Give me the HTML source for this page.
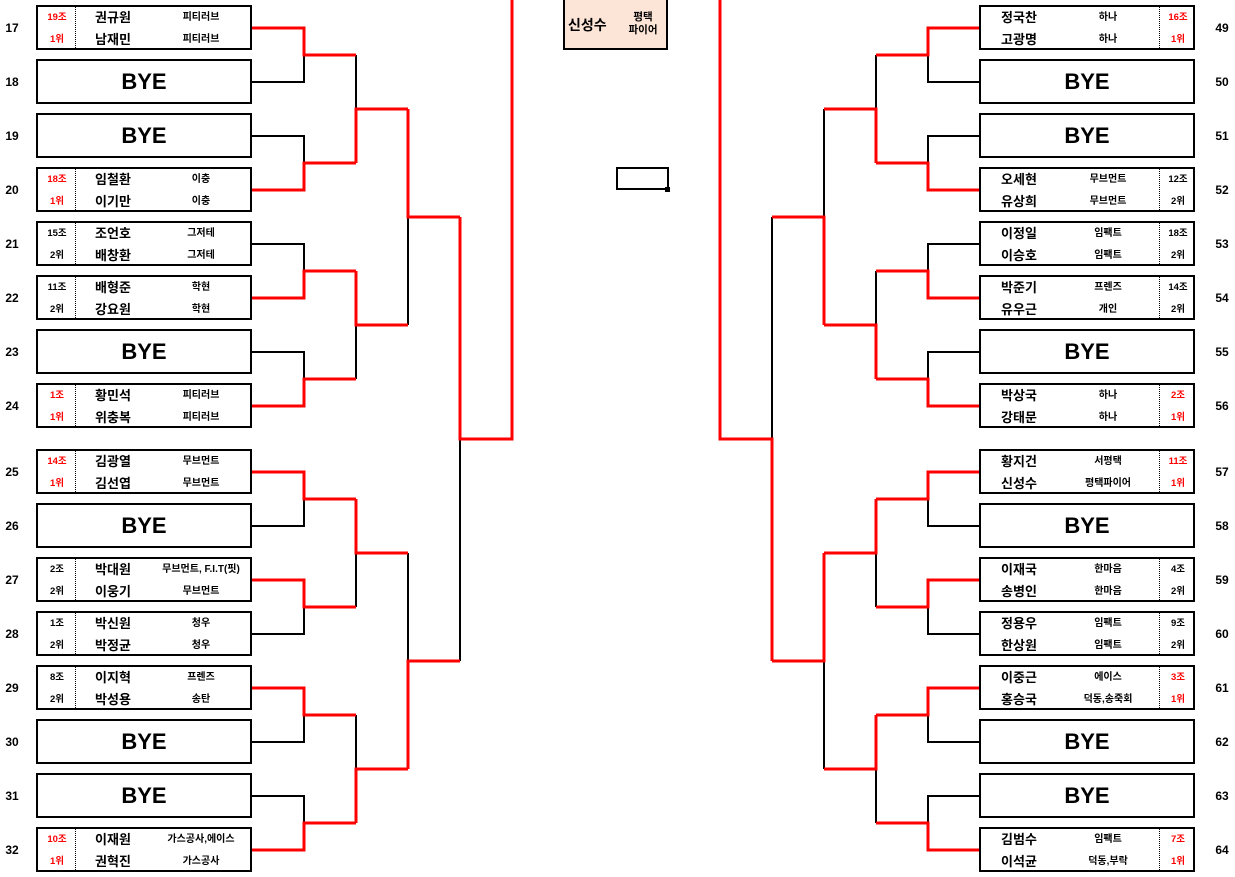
<!DOCTYPE html>
<html><head><meta charset="utf-8"><style>
body{margin:0;width:1235px;height:877px;background:#fff;position:relative;overflow:hidden;font-family:"Liberation Sans","Noto Sans CJK KR",sans-serif;color:#000}
.b{position:absolute;width:212px;height:41px;border:2px solid #000;background:#fff}
.L{left:36px}.R{left:979px}
.b span{position:absolute;text-align:center;line-height:20px;white-space:nowrap}
.t{top:1px}.u{top:23px}
.n{font-size:13px;font-weight:bold}
.c{font-size:10px;font-weight:bold}
.s{font-size:9.5px;font-weight:bold}
.red{color:#f00}
.L .s{left:0;width:38px}.L .n{left:40px;width:70px}.L .c{left:110px;width:106px}
.R .n{left:0;width:76px}.R .c{left:76px;width:102px}.R .s{left:180px;width:34px}
.L .d{position:absolute;left:37px;top:0;height:41px;border-left:1px dotted #000}
.R .d{position:absolute;left:178px;top:0;height:41px;border-left:1px dotted #000}
.bye{font-size:22px;font-weight:bold;line-height:41px;text-align:center}
.num{position:absolute;font-size:12px;font-weight:bold;width:24px;text-align:center;line-height:14px}
</style></head><body>
<svg width="1235" height="877" style="position:absolute;left:0;top:0">
<g fill="none" stroke="#000" stroke-width="2">
<path d="M252 82H304V55M252 136H304V163M356 55V109M252 244H304V271M252 352H304V379M356 379V325M408 325V217M460 661V439"/>
<path d="M252 526H304V499M252 634H304V607M356 607V553M252 742H304V715M252 796H304V823M356 715V769M408 553V661"/>
<path d="M979 82H928V55M979 136H928V163M876 55V109M979 244H928V271M979 352H928V379M876 271V325M824 109V217M772 217V439"/>
<path d="M979 526H928V499M979 634H928V607M876 607V553M979 742H928V715M979 796H928V823M876 823V769M824 769V661"/>
</g>
<g fill="none" stroke="#f00" stroke-width="3">
<path d="M252 28H304V55H356M252 190H304V163H356M356 163V109H408M252 298H304V271H356M252 406H304V379H356M356 271V325H408M408 109V217H460M460 217V439H512V0"/>
<path d="M252 472H304V499H356M252 580H304V607H356M356 499V553H408M252 688H304V715H356M252 850H304V823H356M356 823V769H408M408 769V661H460"/>
<path d="M979 28H928V55H876M979 190H928V163H876M876 163V109H824M979 298H928V271H876M979 406H928V379H876M876 379V325H824M824 325V217H772M772 661V439H720V0"/>
<path d="M979 472H928V499H876M979 580H928V607H876M876 499V553H824M979 688H928V715H876M979 850H928V823H876M876 715V769H824M824 553V661H772"/>
</g>
</svg>

<div style="position:absolute;left:563px;top:-3px;width:101px;height:49px;border:2px solid #000;background:#fce4d6">
<span style="position:absolute;left:3px;top:16px;font-size:14px;font-weight:bold">신성수</span>
<span style="position:absolute;left:58px;top:12px;width:40px;text-align:center;font-size:10.5px;font-weight:bold;line-height:13px">평택<br>파이어</span>
</div>
<div style="position:absolute;left:616px;top:167px;width:49px;height:19px;border:2px solid #000"></div>
<div style="position:absolute;left:665px;top:187px;width:5px;height:5px;background:#000"></div>

<div class="num" style="left:0;top:21px">17</div><div class="num" style="left:0;top:75px">18</div><div class="num" style="left:0;top:129px">19</div><div class="num" style="left:0;top:183px">20</div><div class="num" style="left:0;top:237px">21</div><div class="num" style="left:0;top:291px">22</div><div class="num" style="left:0;top:345px">23</div><div class="num" style="left:0;top:399px">24</div>
<div class="num" style="left:0;top:465px">25</div><div class="num" style="left:0;top:519px">26</div><div class="num" style="left:0;top:573px">27</div><div class="num" style="left:0;top:627px">28</div><div class="num" style="left:0;top:681px">29</div><div class="num" style="left:0;top:735px">30</div><div class="num" style="left:0;top:789px">31</div><div class="num" style="left:0;top:843px">32</div>
<div class="num" style="left:1210px;top:21px">49</div><div class="num" style="left:1210px;top:75px">50</div><div class="num" style="left:1210px;top:129px">51</div><div class="num" style="left:1210px;top:183px">52</div><div class="num" style="left:1210px;top:237px">53</div><div class="num" style="left:1210px;top:291px">54</div><div class="num" style="left:1210px;top:345px">55</div><div class="num" style="left:1210px;top:399px">56</div>
<div class="num" style="left:1210px;top:465px">57</div><div class="num" style="left:1210px;top:519px">58</div><div class="num" style="left:1210px;top:573px">59</div><div class="num" style="left:1210px;top:627px">60</div><div class="num" style="left:1210px;top:681px">61</div><div class="num" style="left:1210px;top:735px">62</div><div class="num" style="left:1210px;top:789px">63</div><div class="num" style="left:1210px;top:843px">64</div>

<div class="b L" style="top:5px"><i class="d"></i><span class="s t red">19조</span><span class="s u red">1위</span><span class="n t">권규원</span><span class="n u">남재민</span><span class="c t">피티러브</span><span class="c u">피티러브</span></div>
<div class="b L bye" style="top:59px">BYE</div>
<div class="b L bye" style="top:113px">BYE</div>
<div class="b L" style="top:167px"><i class="d"></i><span class="s t red">18조</span><span class="s u red">1위</span><span class="n t">임철환</span><span class="n u">이기만</span><span class="c t">이충</span><span class="c u">이충</span></div>
<div class="b L" style="top:221px"><i class="d"></i><span class="s t">15조</span><span class="s u">2위</span><span class="n t">조언호</span><span class="n u">배창환</span><span class="c t">그저테</span><span class="c u">그저테</span></div>
<div class="b L" style="top:275px"><i class="d"></i><span class="s t">11조</span><span class="s u">2위</span><span class="n t">배형준</span><span class="n u">강요원</span><span class="c t">학현</span><span class="c u">학현</span></div>
<div class="b L bye" style="top:329px">BYE</div>
<div class="b L" style="top:383px"><i class="d"></i><span class="s t red">1조</span><span class="s u red">1위</span><span class="n t">황민석</span><span class="n u">위충복</span><span class="c t">피티러브</span><span class="c u">피티러브</span></div>
<div class="b L" style="top:449px"><i class="d"></i><span class="s t red">14조</span><span class="s u red">1위</span><span class="n t">김광열</span><span class="n u">김선엽</span><span class="c t">무브먼트</span><span class="c u">무브먼트</span></div>
<div class="b L bye" style="top:503px">BYE</div>
<div class="b L" style="top:557px"><i class="d"></i><span class="s t">2조</span><span class="s u">2위</span><span class="n t">박대원</span><span class="n u">이웅기</span><span class="c t">무브먼트, F.I.T(핏)</span><span class="c u">무브먼트</span></div>
<div class="b L" style="top:611px"><i class="d"></i><span class="s t">1조</span><span class="s u">2위</span><span class="n t">박신원</span><span class="n u">박정균</span><span class="c t">청우</span><span class="c u">청우</span></div>
<div class="b L" style="top:665px"><i class="d"></i><span class="s t">8조</span><span class="s u">2위</span><span class="n t">이지혁</span><span class="n u">박성용</span><span class="c t">프렌즈</span><span class="c u">송탄</span></div>
<div class="b L bye" style="top:719px">BYE</div>
<div class="b L bye" style="top:773px">BYE</div>
<div class="b L" style="top:827px"><i class="d"></i><span class="s t red">10조</span><span class="s u red">1위</span><span class="n t">이재원</span><span class="n u">권혁진</span><span class="c t">가스공사,에이스</span><span class="c u">가스공사</span></div>

<div class="b R" style="top:5px"><i class="d"></i><span class="n t">정국찬</span><span class="n u">고광명</span><span class="c t">하나</span><span class="c u">하나</span><span class="s t red">16조</span><span class="s u red">1위</span></div>
<div class="b R bye" style="top:59px">BYE</div>
<div class="b R bye" style="top:113px">BYE</div>
<div class="b R" style="top:167px"><i class="d"></i><span class="n t">오세현</span><span class="n u">유상희</span><span class="c t">무브먼트</span><span class="c u">무브먼트</span><span class="s t">12조</span><span class="s u">2위</span></div>
<div class="b R" style="top:221px"><i class="d"></i><span class="n t">이정일</span><span class="n u">이승호</span><span class="c t">임팩트</span><span class="c u">임팩트</span><span class="s t">18조</span><span class="s u">2위</span></div>
<div class="b R" style="top:275px"><i class="d"></i><span class="n t">박준기</span><span class="n u">유우근</span><span class="c t">프렌즈</span><span class="c u">개인</span><span class="s t">14조</span><span class="s u">2위</span></div>
<div class="b R bye" style="top:329px">BYE</div>
<div class="b R" style="top:383px"><i class="d"></i><span class="n t">박상국</span><span class="n u">강태문</span><span class="c t">하나</span><span class="c u">하나</span><span class="s t red">2조</span><span class="s u red">1위</span></div>
<div class="b R" style="top:449px"><i class="d"></i><span class="n t">황지건</span><span class="n u">신성수</span><span class="c t">서평택</span><span class="c u">평택파이어</span><span class="s t red">11조</span><span class="s u red">1위</span></div>
<div class="b R bye" style="top:503px">BYE</div>
<div class="b R" style="top:557px"><i class="d"></i><span class="n t">이재국</span><span class="n u">송병인</span><span class="c t">한마음</span><span class="c u">한마음</span><span class="s t">4조</span><span class="s u">2위</span></div>
<div class="b R" style="top:611px"><i class="d"></i><span class="n t">정용우</span><span class="n u">한상원</span><span class="c t">임팩트</span><span class="c u">임팩트</span><span class="s t">9조</span><span class="s u">2위</span></div>
<div class="b R" style="top:665px"><i class="d"></i><span class="n t">이중근</span><span class="n u">홍승국</span><span class="c t">에이스</span><span class="c u">덕동,송죽회</span><span class="s t red">3조</span><span class="s u red">1위</span></div>
<div class="b R bye" style="top:719px">BYE</div>
<div class="b R bye" style="top:773px">BYE</div>
<div class="b R" style="top:827px"><i class="d"></i><span class="n t">김범수</span><span class="n u">이석균</span><span class="c t">임팩트</span><span class="c u">덕동,부락</span><span class="s t red">7조</span><span class="s u red">1위</span></div>
</body></html>
